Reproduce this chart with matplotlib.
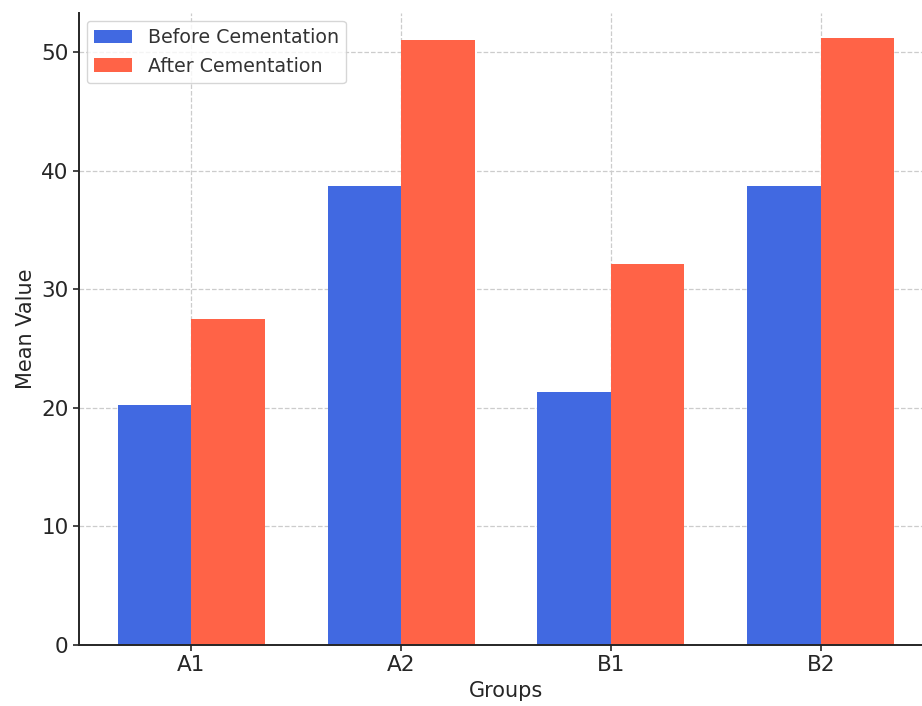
import numpy as np
import matplotlib
matplotlib.use("Agg")
import matplotlib.pyplot as plt

groups = ["A1", "A2", "B1", "B2"]
before_vals = [20.2, 38.7, 21.3, 38.7]
after_vals = [27.5, 51.0, 32.1, 51.2]

plt.rcParams["font.family"] = ["DejaVu Sans"]

fig = plt.figure(figsize=(9.22, 7.06), dpi=100)
# axes run past the right edge like the cropped original
ax = fig.add_axes([79 / 922, 61 / 706, 854 / 922, 632 / 706])

x = np.arange(len(groups))
width = 0.35
ax.bar(x - width / 2, before_vals, width, label="Before Cementation", color="royalblue", zorder=2)
ax.bar(x + width / 2, after_vals, width, label="After Cementation", color="tomato", zorder=2)

ax.set_xticks(x)
ax.set_xticklabels(groups)
ax.set_xlim(-0.535, 3.535)
ax.set_ylim(0, 53.3)
ax.set_xlabel("Groups", fontsize=15, color="#262626")
ax.set_ylabel("Mean Value", fontsize=15, color="#262626")
ax.tick_params(axis="both", labelsize=15.5, colors="#262626", length=4, width=1.2)

for side in ["top", "right"]:
    ax.spines[side].set_visible(False)
for side in ["left", "bottom"]:
    ax.spines[side].set_color("#262626")
    ax.spines[side].set_linewidth(1.4)

ax.grid(True, linestyle="--", color="#cccccc", linewidth=0.9, zorder=0)
ax.set_axisbelow(True)

leg = ax.legend(loc="upper left", fontsize=13.7, frameon=True, borderaxespad=0.4,
                bbox_to_anchor=(0.0, 1.0))
leg.get_frame().set_edgecolor("#cccccc")
for t in leg.get_texts():
    t.set_color("#333333")

plt.savefig("out.png", dpi=100)
